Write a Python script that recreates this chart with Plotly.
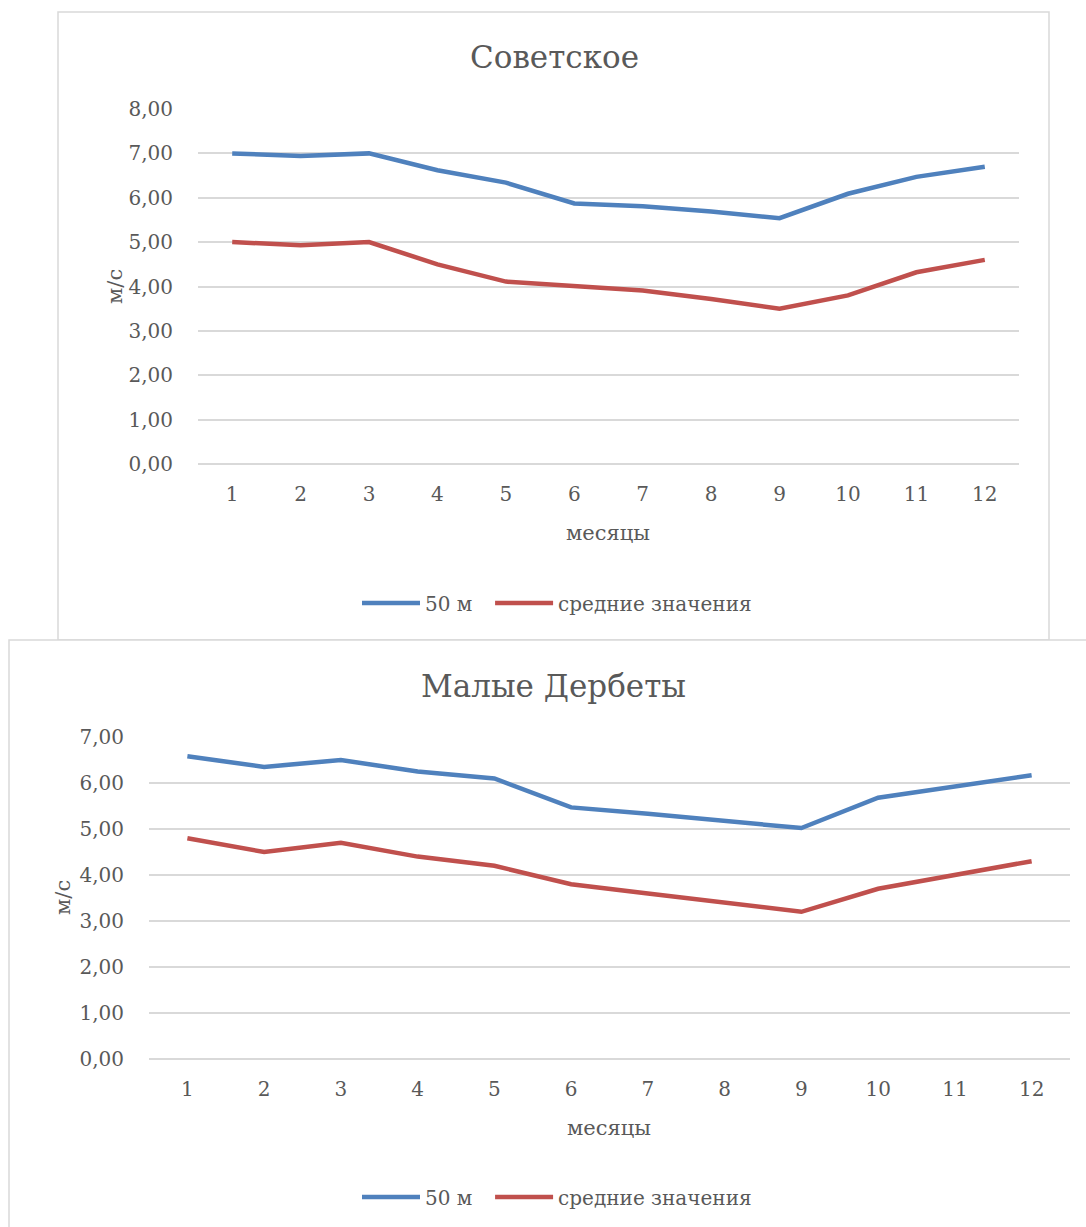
import plotly.graph_objects as go

W, H = 1086, 1227

months = list(range(1, 13))
month_labels = [str(m) for m in months]

# Советское
sov_50m = [7.00, 6.94, 7.00, 6.62, 6.34, 5.87, 5.81, 5.69, 5.54, 6.09, 6.47, 6.70]
sov_avg = [5.00, 4.93, 5.00, 4.50, 4.11, 4.01, 3.91, 3.72, 3.50, 3.80, 4.32, 4.60]

# Малые Дербеты
md_50m = [6.58, 6.35, 6.50, 6.25, 6.10, 5.47, 5.33, 5.18, 5.02, 5.68, 5.93, 6.17]
md_avg = [4.80, 4.50, 4.70, 4.40, 4.20, 3.80, 3.60, 3.40, 3.20, 3.70, 4.00, 4.30]

sov_ticks = [0, 1, 2, 3, 4, 5, 6, 7, 8]
md_ticks = [0, 1, 2, 3, 4, 5, 6, 7]

# series names; the non-breaking spaces widen the gap between legend items
name_50m = "50 м\u00a0\u00a0"
name_avg = "средние значения"

BLUE = "#4F81BD"
RED = "#C0504D"
GRID = "#d9d9d9"
TEXT = "#595959"
FONT = "DejaVu Serif"


def px(x):
    return x / W


def py(y):
    return 1 - y / H


fig = go.Figure()

fig.add_trace(go.Scatter(x=months, y=sov_50m, mode="lines", name=name_50m,
                         line=dict(color=BLUE, width=4.5), xaxis="x", yaxis="y",
                         legend="legend"))
fig.add_trace(go.Scatter(x=months, y=sov_avg, mode="lines", name=name_avg,
                         line=dict(color=RED, width=4.5), xaxis="x", yaxis="y",
                         legend="legend"))
fig.add_trace(go.Scatter(x=months, y=md_50m, mode="lines", name=name_50m,
                         line=dict(color=BLUE, width=4.5), xaxis="x2", yaxis="y2",
                         legend="legend2"))
fig.add_trace(go.Scatter(x=months, y=md_avg, mode="lines", name=name_avg,
                         line=dict(color=RED, width=4.5), xaxis="x2", yaxis="y2",
                         legend="legend2"))


def xaxis_cfg(domain, anchor):
    return dict(domain=domain, anchor=anchor, range=[0.5, 12.5], automargin=False,
                tickmode="array", tickvals=months, ticktext=month_labels,
                showgrid=False, zeroline=False, showline=False,
                ticks="outside", ticklen=12, tickcolor="rgba(0,0,0,0)",
                tickfont=dict(family=FONT, size=20, color=TEXT), fixedrange=True)


def yaxis_cfg(domain, anchor, ticks, top):
    return dict(domain=domain, anchor=anchor, range=[0, top], automargin=False,
                tickmode="array", tickvals=ticks,
                ticktext=[f"{t:.2f}".replace(".", ",") for t in ticks],
                showgrid=True, gridcolor=GRID, gridwidth=1.5,
                zeroline=True, zerolinecolor=GRID, zerolinewidth=1.5,
                showline=False, ticks="outside", ticklen=20,
                tickcolor="rgba(0,0,0,0)",
                tickfont=dict(family=FONT, size=20, color=TEXT), fixedrange=True)


legend_common = dict(orientation="h", xanchor="center", yanchor="middle",
                     font=dict(family=FONT, size=20, color=TEXT),
                     itemwidth=58, bgcolor="rgba(0,0,0,0)")

fig.update_layout(
    width=W, height=H,
    margin=dict(l=0, r=0, t=0, b=0, pad=0, autoexpand=False),
    paper_bgcolor="white", plot_bgcolor="white",
    xaxis=xaxis_cfg([px(198), px(1019)], "y"),
    yaxis=yaxis_cfg([py(464), py(109)], "x", sov_ticks, 8),
    xaxis2=xaxis_cfg([px(149), px(1070)], "y2"),
    yaxis2=yaxis_cfg([py(1059), py(737)], "x2", md_ticks, 7),
    legend=dict(x=px(557), y=py(603), **legend_common),
    legend2=dict(x=px(557), y=py(1197), **legend_common),
    showlegend=True,
)

# Chart frames
fig.add_shape(type="rect", xref="paper", yref="paper", layer="below",
              x0=px(58), x1=px(1049), y0=py(640), y1=py(12),
              line=dict(color=GRID, width=1.5), fillcolor="white")
fig.add_shape(type="rect", xref="paper", yref="paper", layer="below",
              x0=px(9), x1=px(1095), y0=py(1235), y1=py(640),
              line=dict(color=GRID, width=1.5), fillcolor="white")

annotations = [
    dict(text="Советское", x=px(554), y=py(57), font=dict(size=31)),
    dict(text="Малые Дербеты", x=px(553), y=py(686), font=dict(size=31)),
    dict(text="месяцы", x=px(608), y=py(533), font=dict(size=21)),
    dict(text="месяцы", x=px(609), y=py(1128), font=dict(size=21)),
    dict(text="м/с", x=px(115), y=py(286), font=dict(size=21), textangle=-90),
    dict(text="м/с", x=px(63), y=py(898), font=dict(size=21), textangle=-90),
]
for a in annotations:
    a["font"].update(family=FONT, color=TEXT)
    fig.add_annotation(xref="paper", yref="paper", xanchor="center",
                       yanchor="middle", showarrow=False, **a)

fig.write_html("out.html")
